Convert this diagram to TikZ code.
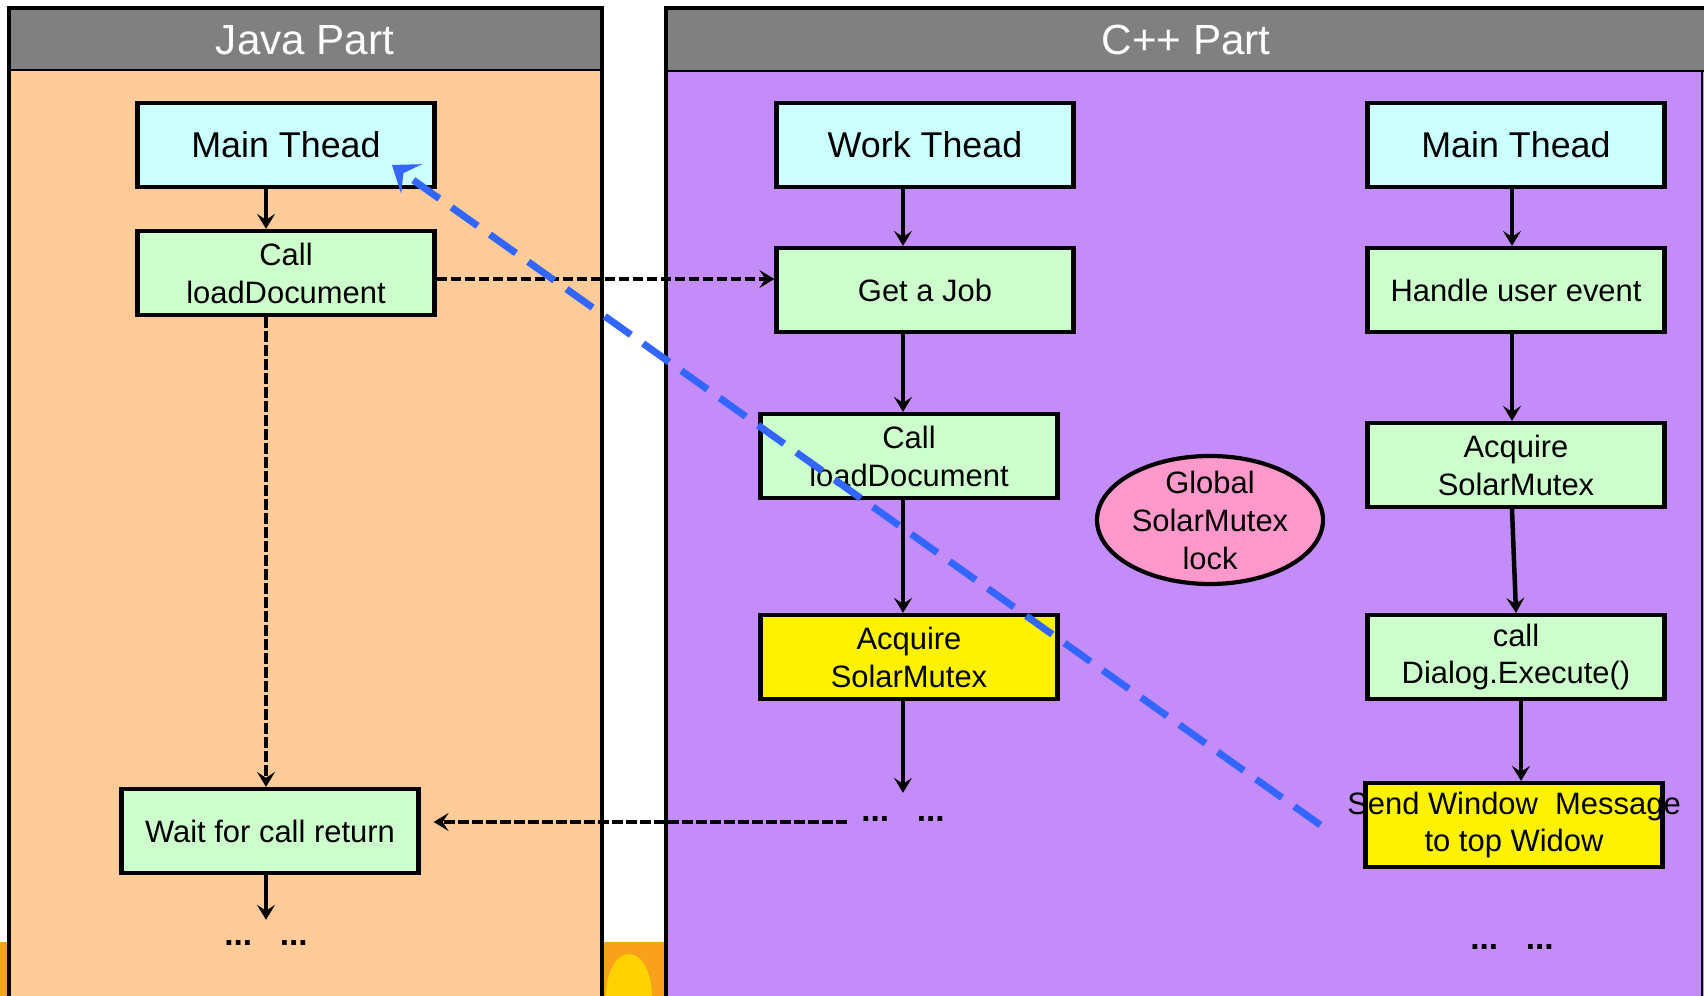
\documentclass[tikz,border=0pt]{standalone}
\usepackage{fontspec}
\setmainfont{Liberation Sans}
\usetikzlibrary{shapes.geometric,arrows.meta}

\definecolor{hdgray}{HTML}{808080}
\definecolor{javabg}{HTML}{FFCC99}
\definecolor{cppbg}{HTML}{C48CF8}
\definecolor{thcyan}{HTML}{CCFFFF}
\definecolor{jobgreen}{HTML}{CCFFCC}
\definecolor{lockpink}{HTML}{FF99CC}
\definecolor{backblue}{HTML}{3366FF}
\definecolor{sunorange}{HTML}{F9A11B}
\definecolor{sunyellow}{HTML}{FFD200}

\begin{document}
\begin{tikzpicture}[x=0.1mm,y=-0.1mm,
  box/.style={draw,line width=0.42mm,minimum width=29.7mm,minimum height=8.4mm,inner sep=0pt,align=center,font=\fontsize{8.8}{10.8}\selectfont},
  thead/.style={box,fill=thcyan,font=\fontsize{10.2}{12}\selectfont},
  job/.style={box,fill=jobgreen},
  lockbox/.style={box,fill=yellow},
  flow/.style={-{Stealth[length=1.5mm,width=1.8mm,inset=0.6mm]},line width=0.45mm},
  call/.style={flow,dash pattern=on 1.05mm off 0.35mm},
  back/.style={-{Stealth[length=2.4mm,width=3.6mm,inset=1mm]},backblue,line width=0.7mm,dash pattern=on 3.2mm off 1.5mm},
  dots/.style={inner sep=0pt,font=\bfseries\fontsize{9.5}{11}\selectfont},
  part/.style={text=white,font=\fontsize{12}{14}\selectfont}]
\useasboundingbox (0,0) rectangle (1704,996);
\clip (0,0) rectangle (1704,996);
% background strip
\fill[sunorange] (0,942) rectangle (700,996);
\fill[sunyellow] (629,996) ellipse (23 and 42);
% java part
\fill[javabg] (9,8) rectangle (602,1010);
\fill[hdgray] (9,8) rectangle (602,70);
\draw[line width=0.15mm] (9,70) -- (602,70);
\draw[line width=0.4mm] (9,1010) -- (9,8) -- (602,8) -- (602,1010);
\node[part] (java) at (305,40) {Java Part};
% c++ part
\fill[cppbg] (666,8) rectangle (1704,1010);
\fill[hdgray] (666,8) rectangle (1704,71);
\draw[line width=0.15mm] (666,71) -- (1704,71);
\draw[line width=0.4mm] (666,1010) -- (666,8) -- (1704,8);
\draw[line width=0.15mm] (1702,71) -- (1702,1010);
\node[part] (cpp) at (1186,40) {C++ Part};

\node[thead] (jmain) at (286,145) {Main Thead};
\node[job] (jcall) at (286,273) {Call\\loadDocument};
\node[job] (jwait) at (270,831) {Wait for call return};
\node[dots] (jdots) at (266,943) {...\ \ \ ...};

\node[thead] (wmain) at (925,145) {Work Thead};
\node[job] (wjob) at (925,290) {Get a Job};
\node[job] (wcall) at (909,456) {Call\\loadDocument};
\node[lockbox] (wacq) at (909,657) {Acquire\\SolarMutex};
\node[dots] (wdots) at (903,819) {...\ \ \ ...};

\node[thead] (mmain) at (1516,145) {Main Thead};
\node[job] (mhandle) at (1516,290) {Handle user event};
\node[job] (macq) at (1516,465) {Acquire\\SolarMutex};
\node[job] (mexec) at (1516,657) {call\\Dialog.Execute()};
\node[lockbox] (msend) at (1514,825) {\makebox[0pt]{Send Window\ \ Message}\\to top Widow};
\node[dots] (mdots) at (1512,947) {...\ \ \ ...};

\node[ellipse,draw,fill=lockpink,line width=0.42mm,minimum width=22.6mm,minimum height=12.8mm,inner xsep=0pt,inner ysep=-1.5mm,align=center,font=\fontsize{8.8}{10.8}\selectfont] (lock) at (1210,520) {Global\\SolarMutex\\lock};

\draw[flow] (jmain.south -| jdots) -- (jcall.north -| jdots);
\draw[call] (jcall.south -| jdots) -- (jwait.north -| jdots);
\draw[flow] (jwait.south -| jdots) -- ([yshift=2mm]jdots.north);
\draw[call] ([yshift=-0.6mm]jcall.east) -- ([yshift=-0.6mm]jcall.east -| wjob.west);

\draw[flow] (wmain.south -| wdots) -- (wjob.north -| wdots);
\draw[flow] (wjob.south -| wdots) -- (wcall.north -| wdots);
\draw[flow] (wcall.south -| wdots) -- (wacq.north -| wdots);
\draw[flow] (wacq.south -| wdots) -- ([yshift=2.3mm]wdots.north);
\draw[call,shorten <=1.4mm,shorten >=1.3mm] ([yshift=-0.3mm]wdots.west) -- ([yshift=-0.3mm]wdots.west -| jwait.east);

\draw[flow] (mmain.south -| mdots) -- (mhandle.north -| mdots);
\draw[flow] (mhandle.south -| mdots) -- (macq.north -| mdots);
\draw[flow] (macq.south -| mdots) -- ([xshift=0.4mm]mexec.north -| mdots);
\draw[flow] ([xshift=0.9mm]mexec.south -| mdots) -- ([xshift=0.9mm]msend.north -| mdots);

\draw[back] ([xshift=-4.3mm]msend.west) -- ([xshift=10.6mm,yshift=-2mm]jmain.center);
\end{tikzpicture}
\end{document}
